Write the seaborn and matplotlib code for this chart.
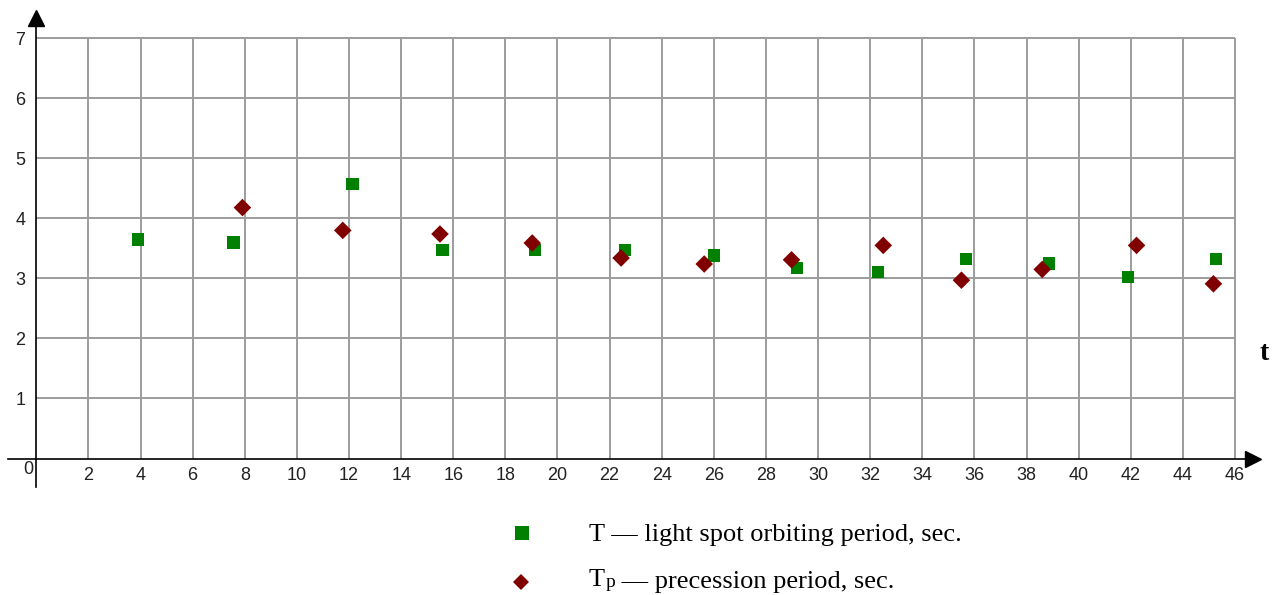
import numpy as np
import pandas as pd
import seaborn as sns
import matplotlib
matplotlib.use('Agg')
import matplotlib.pyplot as plt

# time (x) and period values
t_T   = [3.91, 7.57, 12.14, 15.59, 19.14, 22.6, 26.0, 29.2, 32.3, 35.68, 38.87, 41.9, 45.26]
T     = [3.65, 3.60, 4.57, 3.47, 3.47, 3.47, 3.38, 3.17, 3.11, 3.32, 3.25, 3.02, 3.32]
t_Tp  = [7.91, 11.76, 15.49, 19.03, 22.44, 25.63, 28.98, 32.5, 35.5, 38.6, 42.22, 45.17]
Tp    = [4.18, 3.80, 3.74, 3.59, 3.34, 3.24, 3.31, 3.55, 2.97, 3.15, 3.55, 2.91]

x_ticks = list(range(2, 47, 2))
y_ticks = list(range(1, 8))
label_T  = "T \u2014 light spot orbiting period, sec."
label_Tp = " \u2014 precession period, sec."

df = pd.concat([
    pd.DataFrame({'t': t_T,  'period': T,  'series': 'T'}),
    pd.DataFrame({'t': t_Tp, 'period': Tp, 'series': 'Tp'}),
], ignore_index=True)

sns.set_style('white')
plt.rcParams['font.family'] = ['Liberation Sans', 'DejaVu Sans']
plt.rcParams['text.color'] = 'black'

W, H = 1276, 595
fig = plt.figure(figsize=(W / 100, H / 100), dpi=100)
ax  = fig.add_axes([0, 0, 1, 1])

# pixel layout: x=0 at px 36.3, 26.06 px per unit; y=0 at px 458.5 from top, 60.03 px per unit
x0, xs = 36.3, 26.06
y0, ys = 458.5, 60.03
ax.set_xlim(-x0 / xs, (W - x0) / xs)
ax.set_ylim((y0 - H) / ys, y0 / ys)

def fx(px):
    return px / W

def fy(py):
    return 1 - py / H

grid_c = '#9c9c9c'
ax.vlines(x_ticks, 0, 7, color=grid_c, lw=1.4, zorder=1)
ax.hlines(y_ticks, 0, 46, color=grid_c, lw=1.4, zorder=1)

# axes lines
for s in ['top', 'right']:
    ax.spines[s].set_visible(False)
ax.spines['left'].set_position(('data', 0))
ax.spines['bottom'].set_position(('data', 0))
ax.spines['left'].set_bounds(-0.47, 7.25)
ax.spines['bottom'].set_bounds(-1.08, 46.5)
for s in ['left', 'bottom']:
    ax.spines[s].set_color('black')
    ax.spines[s].set_linewidth(1.2)
    ax.spines[s].set_zorder(3)

ax.set_xticks(x_ticks)
ax.set_yticks(y_ticks)
ax.tick_params(axis='both', direction='inout', length=6, width=1.1, color='black',
               labelsize=13, labelcolor='#222222')
ax.tick_params(axis='x', pad=3)
ax.tick_params(axis='y', pad=5)
ax.text(-0.12, -0.175, '0', ha='right', va='center', fontsize=13, color='#222222')

# arrow heads
ax.plot(46.7, 0, marker='>', ms=11.5, color='black', clip_on=False, zorder=4)
ax.plot(0, 7.34, marker='^', ms=11, color='black', clip_on=False, zorder=4)

sns.scatterplot(data=df, x='t', y='period', hue='series', style='series',
                markers={'T': 's', 'Tp': 'D'},
                palette={'T': '#008000', 'Tp': '#800000'},
                s=80, linewidth=0, legend=False, ax=ax, zorder=5)
ax.set_xlabel('')
ax.set_ylabel('')

fig.text(fx(1264), fy(354), 't', fontsize=20, fontweight='bold',
         family=['Liberation Serif'], ha='center', va='center')

# legend
ax.plot(fx(521.7), fy(532.8), marker='s', ms=9.5, color='#008000', mew=0,
        transform=fig.transFigure, clip_on=False)
ax.plot(fx(520.8), fy(582), marker='D', ms=8, color='#800000', mew=0,
        transform=fig.transFigure, clip_on=False)
fig.text(fx(589), fy(541.5), label_T, fontsize=19, family=['Liberation Serif'],
         ha='left', va='baseline')
tt = fig.text(fx(589), fy(586), 'T', fontsize=19, family=['Liberation Serif'],
              ha='left', va='baseline')
tp = ax.annotate('p', xy=(1, 0), xycoords=tt, fontsize=14, family=['Liberation Serif'],
                 ha='left', va='bottom', annotation_clip=False)
ax.annotate(label_Tp, xy=(1, 0), xycoords=tp, fontsize=19, family=['Liberation Serif'],
            ha='left', va='bottom', xytext=(0, -1.5), textcoords='offset points',
            annotation_clip=False)

fig.savefig('out.png', dpi=100)
